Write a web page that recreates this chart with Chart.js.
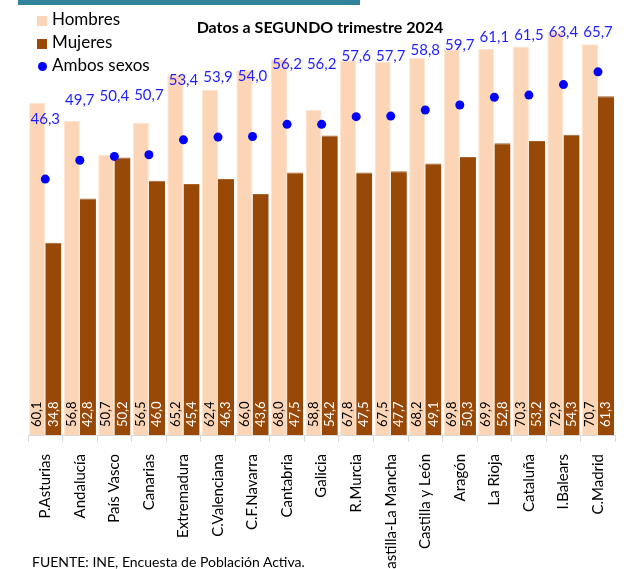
<!DOCTYPE html>
<html>
<head>
<meta charset="utf-8">
<script src="https://cdn.jsdelivr.net/npm/chart.js@4.4.1/dist/chart.umd.min.js"></script>
<style>
  body { margin: 0; background: #fff; }
  #wrap { position: relative; width: 628px; height: 569px; overflow: hidden; font-family: Lato, sans-serif; }
  #barra { position: absolute; left: 18px; top: 0; width: 342px; height: 5px; background: #31849B; }
  #titulo { position: absolute; left: 0; width: 640px; top: 17px; text-align: center; font-weight: bold; font-size: 16px; color: #000; }
  #leyenda { position: absolute; left: 37px; top: 7px; font-size: 17px; color: #000; }
  #leyenda div { height: 23px; line-height: 23px; white-space: nowrap; }
  #leyenda span { display: inline-block; vertical-align: middle; margin-right: 5px; }
  #fuente { position: absolute; left: 32px; top: 553px; font-size: 14px; color: #000; }
</style>
</head>
<body>
<div id="wrap">
  <canvas id="grafico" width="628" height="569"></canvas>
  <div id="barra"></div>
  <div id="titulo">Datos a SEGUNDO trimestre 2024</div>
  <div id="leyenda">
    <div><span style="width:10px;height:10px;background:#FBD5B5"></span>Hombres</div>
    <div><span style="width:10px;height:10px;background:#984807"></span>Mujeres</div>
    <div><span style="width:9px;height:9px;border-radius:50%;background:#0000FF;margin-left:1px"></span>Ambos sexos</div>
  </div>
  <div id="fuente">FUENTE: INE, Encuesta de Población Activa.</div>
</div>
<script>
const categorias = ['P.Asturias', 'Andalucía', 'País Vasco', 'Canarias', 'Extremadura', 'C.Valenciana', 'C.F.Navarra', 'Cantabria', 'Galicia', 'R.Murcia', 'Castilla-La Mancha', 'Castilla y León', 'Aragón', 'La Rioja', 'Cataluña', 'I.Balears', 'C.Madrid'];
const hombres = [60.1, 56.8, 50.7, 56.5, 65.2, 62.4, 66.0, 68.0, 58.8, 67.8, 67.5, 68.2, 69.8, 69.9, 70.3, 72.9, 70.7];
const mujeres = [34.8, 42.8, 50.2, 46.0, 45.4, 46.3, 43.6, 47.5, 54.2, 47.5, 47.7, 49.1, 50.3, 52.8, 53.2, 54.3, 61.3];
const ambos = [46.3, 49.7, 50.4, 50.7, 53.4, 53.9, 54.0, 56.2, 56.2, 57.6, 57.7, 58.8, 59.7, 61.1, 61.5, 63.4, 65.7];

const formato = v => v.toFixed(1).replace('.', ',');

// etiquetas de valores: verticales dentro de las barras y azules sobre los puntos
const etiquetas = {
    id: 'etiquetas',
    afterDatasetsDraw(chart) {
        const ctx = chart.ctx;
        const base = chart.scales.y.getPixelForValue(0);
        ctx.save();
        [1, 2].forEach(i => {
            const meta = chart.getDatasetMeta(i);
            const datos = chart.data.datasets[i].data;
            ctx.fillStyle = i === 1 ? '#000' : '#fff';
            ctx.font = '13px Lato, sans-serif';
            ctx.textAlign = 'left';
            ctx.textBaseline = 'middle';
            meta.data.forEach((barra, j) => {
                ctx.save();
                ctx.translate(barra.x, base - 8);
                ctx.rotate(-Math.PI / 2);
                ctx.fillText(formato(datos[j]), 0, 0);
                ctx.restore();
            });
        });
        const puntos = chart.getDatasetMeta(0);
        ctx.fillStyle = '#1F1FFF';
        ctx.font = '15px Lato, sans-serif';
        ctx.textAlign = 'center';
        puntos.data.forEach((p, j) => {
            const y = Math.max(p.y - 60, 32);
            ctx.fillText(formato(ambos[j]), p.x, y);
        });
        ctx.restore();
    }
};

const chart = new Chart(document.getElementById('grafico'), {
    data: {
        labels: categorias,
        datasets: [
            {
                type: 'line',
                label: 'Ambos sexos',
                data: ambos,
                showLine: false,
                pointRadius: 4.5,
                pointBackgroundColor: '#0000FF',
                pointBorderWidth: 0,
                order: 0
            },
            {
                type: 'bar',
                label: 'Hombres',
                data: hombres,
                backgroundColor: '#FBD5B5',
                borderColor: '#FDE4D0',
                borderWidth: 1,
                order: 1
            },
            {
                type: 'bar',
                label: 'Mujeres',
                data: mujeres,
                backgroundColor: '#984807',
                borderColor: '#A8622A',
                borderWidth: { top: 1 },
                order: 2
            }
        ]
    },
    options: {
        responsive: false,
        animation: false,
        datasets: {
            bar: { categoryPercentage: 0.935, barPercentage: 1.0 }
        },
        layout: { padding: { left: 28, right: 0, top: 0, bottom: 0 }, autoPadding: false },
        plugins: {
            legend: { display: false },
            title: { display: false },
            tooltip: { enabled: false }
        },
        scales: {
            y: { display: false, min: 0, max: 78.7 },
            x: {
                grid: { drawOnChartArea: false, offset: true, tickLength: 7, color: '#D9D9D9' },
                border: { color: '#D9D9D9' },
                ticks: {
                    minRotation: 90,
                    maxRotation: 90,
                    padding: 12,
                    color: '#000',
                    font: { family: 'Lato, sans-serif', size: 15 }
                },
                afterFit(scale) { scale.height = 134; }
            }
        }
    },
    plugins: [etiquetas]
});
</script>
</body>
</html>
